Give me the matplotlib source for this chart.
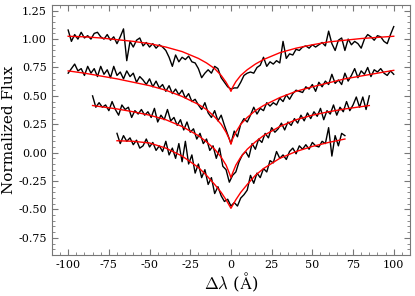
import numpy as np
import matplotlib
matplotlib.use('Agg')
import matplotlib.pyplot as plt
from matplotlib.ticker import MultipleLocator

# Espectros observados (fluxo normalizado, deslocados verticalmente)
flux1 = [1.08, 0.98, 1.04, 1.00, 1.06, 1.01, 1.03, 1.00, 1.05, 1.06,
         1.02, 1.00, 1.04, 0.99, 1.02, 0.96, 1.02, 1.09, 0.81, 0.98,
         0.93, 0.99, 1.01, 0.94, 0.97, 0.93, 0.96, 0.92, 0.95, 0.93,
         0.90, 0.84, 0.76, 0.86, 0.80, 0.84, 0.82, 0.85, 0.80, 0.79,
         0.74, 0.66, 0.70, 0.73, 0.70, 0.76, 0.74, 0.66, 0.62, 0.58,
         0.56, 0.57, 0.57, 0.62, 0.68, 0.70, 0.71, 0.70, 0.75, 0.77,
         0.84, 0.76, 0.80, 0.78, 0.81, 0.79, 0.98, 0.83, 0.87, 0.86,
         0.91, 0.90, 0.93, 0.94, 0.92, 0.95, 0.93, 0.95, 0.97, 0.94,
         1.07, 0.96, 0.90, 0.99, 1.01, 0.90, 1.00, 0.95, 0.98, 0.96,
         0.92, 1.00, 1.04, 1.02, 0.99, 1.03, 1.02, 0.98, 0.96, 1.04,
         1.11]
flux2 = [0.70, 0.74, 0.78, 0.72, 0.74, 0.68, 0.76, 0.70, 0.74, 0.67,
         0.76, 0.69, 0.73, 0.66, 0.76, 0.68, 0.71, 0.65, 0.72, 0.67,
         0.70, 0.62, 0.67, 0.64, 0.60, 0.65, 0.58, 0.63, 0.57, 0.60,
         0.54, 0.59, 0.52, 0.56, 0.51, 0.55, 0.48, 0.52, 0.45, 0.47,
         0.42, 0.38, 0.44, 0.35, 0.31, 0.37, 0.28, 0.33, 0.24, 0.16,
         0.08, 0.19, 0.14, 0.25, 0.30, 0.27, 0.33, 0.40, 0.34, 0.39,
         0.37, 0.44, 0.41, 0.44, 0.42, 0.48, 0.45, 0.51, 0.47, 0.52,
         0.55, 0.54, 0.53, 0.58, 0.56, 0.60, 0.54, 0.62, 0.58, 0.63,
         0.60, 0.69, 0.61, 0.64, 0.60, 0.70, 0.63, 0.68, 0.74, 0.66,
         0.72, 0.69, 0.75, 0.67, 0.73, 0.71, 0.74, 0.70, 0.68, 0.72,
         0.69]
flux3 = [0.50, 0.40, 0.44, 0.40, 0.42, 0.37, 0.45, 0.38, 0.33, 0.42,
         0.38, 0.40, 0.31, 0.37, 0.34, 0.38, 0.33, 0.36, 0.31, 0.39,
         0.27, 0.33, 0.29, 0.38, 0.28, 0.31, 0.24, 0.29, 0.20, 0.27,
         0.18, 0.21, 0.12, 0.17, 0.08, 0.12, 0.02, 0.06, -0.05, 0.04,
         -0.12, -0.15, -0.26, -0.20, -0.17, -0.08, -0.02, 0.01, -0.04, 0.08,
         0.03, 0.12, 0.09, 0.17, 0.13, 0.22, 0.18, 0.21, 0.26, 0.20,
         0.27, 0.24, 0.30, 0.26, 0.33, 0.28, 0.35, 0.30, 0.36, 0.32,
         0.39, 0.29, 0.37, 0.34, 0.42, 0.33, 0.40, 0.36, 0.45, 0.37,
         0.42, 0.49, 0.40, 0.49, 0.38, 0.50]
flux4 = [0.17, 0.08, 0.15, 0.10, 0.13, 0.07, 0.11, 0.04, 0.06, 0.12,
         0.05, 0.09, 0.02, 0.06, 0.01, 0.10, -0.02, 0.04, -0.05, 0.08,
         -0.08, 0.10, -0.10, -0.02, -0.18, -0.10, -0.22, -0.15, -0.28, -0.22,
         -0.36, -0.30, -0.38, -0.43, -0.41, -0.47, -0.44, -0.47, -0.40, -0.37,
         -0.33, -0.20, -0.27, -0.18, -0.22, -0.14, -0.17, -0.07, -0.09, 0.01,
         -0.05, -0.02, -0.06, 0.01, 0.04, -0.01, 0.06, 0.03, 0.07, 0.03,
         0.09, 0.06, 0.05, 0.10, 0.08, 0.22, -0.03, 0.15, 0.06, 0.17,
         0.15]
limites = [100, 100, 85, 70]

# Modelos ajustados (curvas vermelhas)
xm1 = [-100, -90, -80, -70, -60, -50, -40, -30, -20, -15, -10, -6, -3, -1, 0,
       1, 3, 6, 10, 15, 20, 30, 40, 50, 60, 70, 80, 90, 100]
ym1 = [1.025, 1.02, 1.01, 0.995, 0.98, 0.96, 0.93, 0.89, 0.83, 0.79, 0.74, 0.68,
       0.62, 0.57, 0.54, 0.575, 0.625, 0.68, 0.73, 0.78, 0.82, 0.88, 0.92, 0.95,
       0.975, 0.99, 1.005, 1.015, 1.025]
xm2 = xm1
ym2 = [0.72, 0.70, 0.675, 0.65, 0.62, 0.59, 0.55, 0.495, 0.425, 0.38, 0.315,
       0.25, 0.18, 0.12, 0.075, 0.12, 0.18, 0.25, 0.31, 0.37, 0.415, 0.485,
       0.54, 0.58, 0.615, 0.65, 0.675, 0.70, 0.725]
xm3 = [-85, -80, -70, -60, -50, -40, -30, -20, -15, -10, -6, -3, -1, 0,
       1, 3, 6, 10, 15, 20, 30, 40, 50, 60, 70, 80, 85]
ym3 = [0.415, 0.405, 0.385, 0.36, 0.33, 0.29, 0.23, 0.15, 0.095, 0.03, -0.04,
       -0.11, -0.18, -0.22, -0.18, -0.11, -0.04, 0.03, 0.095, 0.15, 0.23, 0.29,
       0.33, 0.36, 0.385, 0.405, 0.415]
xm4 = [-70, -60, -50, -40, -30, -20, -15, -10, -6, -3, -1, 0,
       1, 3, 6, 10, 15, 20, 30, 40, 50, 60, 70]
ym4 = [0.105, 0.10, 0.085, 0.04, -0.03, -0.13, -0.2, -0.28, -0.35, -0.415,
       -0.465, -0.49, -0.465, -0.415, -0.35, -0.28, -0.2, -0.14, -0.05, 0.01,
       0.055, 0.09, 0.12]

plt.rcParams['font.family'] = 'DejaVu Serif'
plt.rcParams['mathtext.fontset'] = 'cm'
plt.rcParams['axes.unicode_minus'] = False

fig = plt.figure(figsize=(4.15, 2.96), dpi=100)
ax = fig.add_axes([0.125, 0.139, 0.863, 0.844])

fluxos = [flux1, flux2, flux3, flux4]
modelos = [(xm1, ym1), (xm2, ym2), (xm3, ym3), (xm4, ym4)]
for f, lim, (xm, ym) in zip(fluxos, limites, modelos):
    x = np.linspace(-lim, lim, len(f))
    ax.plot(x, f, color='black', lw=1.0)
    ax.plot(xm, ym, color='red', lw=1.0)

ax.set_xlim(-110, 110)
ax.set_ylim(-0.9, 1.3)
ax.xaxis.set_major_locator(MultipleLocator(25))
ax.xaxis.set_minor_locator(MultipleLocator(5))
ax.yaxis.set_major_locator(MultipleLocator(0.25))
ax.yaxis.set_minor_locator(MultipleLocator(0.05))
ax.yaxis.set_major_formatter(plt.FormatStrFormatter('%.2f'))
ax.tick_params(which='both', direction='in', top=True, right=True,
               color='#777777', labelsize=8)
ax.tick_params(which='major', length=4)
ax.tick_params(which='minor', length=2)
for s in ax.spines.values():
    s.set_color('#777777')

ax.set_xlabel(r'$\Delta\lambda$ ($\mathrm{\AA}$)', fontsize=12, labelpad=1)
ax.set_ylabel('Normalized Flux', fontsize=11, labelpad=2)

fig.savefig('out.png', dpi=100)
